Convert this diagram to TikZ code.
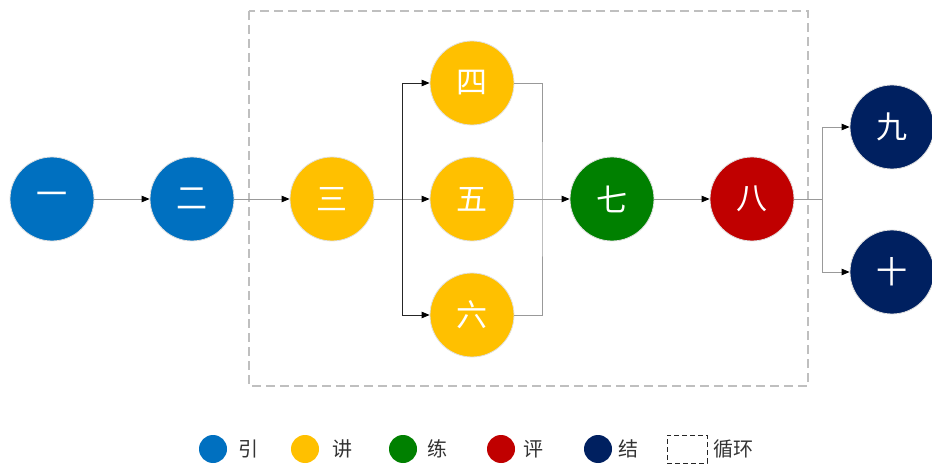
\documentclass[tikz,border=0pt]{standalone}
\usepackage{fontspec}
\newfontfamily\cjk{Noto Sans CJK SC}
\usepackage{xcolor}
\usepackage{tikz}
\usetikzlibrary{arrows.meta}
\usetikzlibrary{positioning, calc}
\definecolor{introblue}{HTML}{0070C0}
\definecolor{lectureyellow}{HTML}{FFC000}
\definecolor{practicegreen}{HTML}{008000}
\definecolor{reviewred}{HTML}{C00000}
\definecolor{summaryblue}{HTML}{002060}
\tikzset{
    stage/.style = {circle, minimum size=84pt, inner sep=0pt,
        draw=black!12, line width=0.8pt, text=white, font=\cjk\fontsize{31}{31}\selectfont},
    intro/.style = {stage, fill=introblue},
    lecture/.style = {stage, fill=lectureyellow},
    practice/.style = {stage, fill=practicegreen},
    review/.style = {stage, fill=reviewred},
    summary/.style = {stage, fill=summaryblue},
    legendkey/.style = {circle, minimum size=28pt, inner sep=0pt},
    keytext/.style = {inner sep=0pt, text=black!80, font=\cjk\fontsize{20}{20}\selectfont},
    link/.style = {draw=black!40, line width=0.8pt},
    fork/.style = {draw=black!85, line width=0.8pt},
    loopbox/.style = {draw=black!25, line width=1.6pt, dash pattern=on 9pt off 5pt},
}

\begin{document}
\begin{tikzpicture}[>={Triangle[length=8pt, width=6.5pt, color=black]}]
    \useasboundingbox (0,0) rectangle (932pt,-465pt);
    % loop frame
    \draw[loopbox] (249pt,-11pt) rectangle (808pt,-386pt);
    % stages
    \node (one) [intro] at (52pt,-199pt) {一};
    \node (two) [intro, right=55.2pt of one] {二};
    \node (three) [lecture, right=55.2pt of two] {三};
    \node (five) [lecture, right=55.2pt of three] {五};
    \node (four) [lecture, above=31.2pt of five] {四};
    \node (six) [lecture, below=31.2pt of five] {六};
    \node (seven) [practice, right=55.2pt of five] {七};
    \node (eight) [review, right=55.2pt of seven] {八};
    \node (nine) [summary, right=55.2pt of eight, yshift=72pt] {九};
    \node (ten) [summary, right=55.2pt of eight, yshift=-73pt] {十};
    % connectors
    \coordinate (split) at ($(three.east)!0.5!(five.west)$);
    \coordinate (join) at ($(five.east)!0.5!(seven.west)$);
    \coordinate (branch) at ($(eight.east)!0.5!(nine.west |- eight.east)$);
    \draw[link, ->] (one) -- (two);
    \draw[link, ->] (two) -- (three);
    \draw[link, ->] (three) -- (five);
    \draw[fork, ->] (split) |- (four);
    \draw[fork, ->] (split) |- (six);
    \draw[link] (four) -| (join) |- (six);
    \draw[link, ->] (five) -- (seven);
    \draw[link, ->] (seven) -- (eight);
    \draw[link] (eight) -- (branch);
    \draw[link, ->] (branch) |- (nine);
    \draw[link, ->] (branch) |- (ten);
    % legend
    \node (kintro) [legendkey, fill=introblue] at (213pt,-449pt) {};
    \node (tintro) [keytext, right=11pt of kintro] {引};
    \node (klecture) [legendkey, fill=lectureyellow] at (305pt,-449pt) {};
    \node (tlecture) [keytext, right=13pt of klecture] {讲};
    \node (kpractice) [legendkey, fill=practicegreen] at (403pt,-449pt) {};
    \node (tpractice) [keytext, right=10pt of kpractice] {练};
    \node (kreview) [legendkey, fill=reviewred] at (501pt,-449pt) {};
    \node (treview) [keytext, right=8pt of kreview] {评};
    \node (ksummary) [legendkey, fill=summaryblue] at (598pt,-449pt) {};
    \node (tsummary) [keytext, right=6pt of ksummary] {结};
    \node (kloop) [draw=black!85, line width=0.9pt, dash pattern=on 5pt off 3pt,
        minimum width=40pt, minimum height=28pt, inner sep=0pt] at (687pt,-449pt) {};
    \node (tloop) [keytext, right=6pt of kloop] {循环};
\end{tikzpicture}
\end{document}
